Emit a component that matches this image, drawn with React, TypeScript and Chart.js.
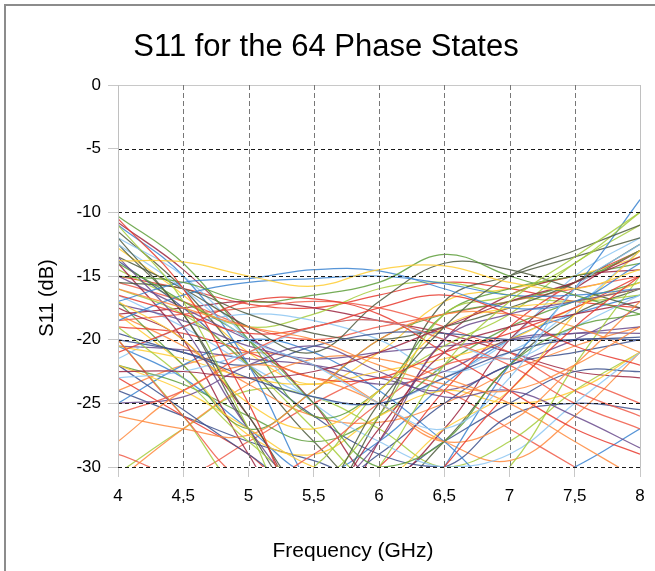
import React, { useEffect, useRef } from "react";
import { Chart, registerables } from "chart.js";

Chart.register(...registerables);

const chartTitle = "S11 for the 64 Phase States";
const xTitle = "Frequency (GHz)";
const yTitle = "S11 (dB)";

const freqs = [4, 4.5, 5, 5.5, 6, 6.5, 7, 7.5, 8];

const palette = [
  "#e8392e", // red
  "#ff8a3d", // orange
  "#ffcc33", // yellow
  "#a5cc3c", // light green
  "#5d9e3a", // green
  "#4d5b3e", // olive / dark
  "#8cc6f2", // light blue
  "#3a83d0", // blue
  "#3b4f8c", // navy
  "#6a4a8c", // purple
  "#9c2540", // dark red
  "#f05a48", // salmon red
];

const s01 = [-10.5, -16, -25, -35, -36, -30, -24, -19, -15];
const s02 = [-16, -17.5, -19, -20, -22, -23.5, -24, -22, -19];
const s03 = [-13.8, -13.9, -15, -15.8, -14.5, -14.2, -15.5, -16, -14.5];
const s04 = [-11, -17, -27, -36, -30, -22, -17, -13.5, -10];
const s05 = [-15, -15.5, -17, -16.5, -15.5, -13.3, -15, -16.5, -18];
const s06 = [-12, -18, -26, -32, -25, -19, -15, -13, -11];
const s07 = [-12.5, -16, -20, -22, -25, -27, -23, -16, -12.5];
const s08 = [-17, -15.5, -15.2, -14.5, -14.6, -16, -17.5, -17, -14];
const s09 = [-20, -21, -23, -24.5, -25, -23, -21, -20, -20];
const s10 = [-13.5, -19, -27, -32, -28, -20, -18, -17, -16];
const s11 = [-22.5, -22.5, -23, -22.5, -21, -19, -17, -15.5, -13.5];
const s12 = [-25.8, -24, -21, -19, -18.5, -20, -22, -25, -27];
const s13 = [-16.5, -18, -19.5, -19, -17.5, -16.5, -18, -20.5, -22];
const s14 = [-28, -24, -22, -23, -25, -28, -26.5, -22, -17];
const s15 = [-17, -20, -25, -27, -24, -19, -17.5, -17, -16];
const s16 = [-19, -23, -28, -31, -26, -18, -16.5, -14, -10];
const s17 = [-14, -17, -20, -25, -30, -28, -22, -19, -18];
const s18 = [-13.5, -16, -19, -21, -17, -14, -14.5, -16, -17.5];
const s19 = [-23, -22.5, -21, -19, -18.5, -20, -21.5, -19, -16.5];
const s20 = [-18.5, -16.5, -15.5, -15.2, -15, -15.6, -16.5, -16.5, -16];
const s21 = [-19.5, -21, -22, -20.5, -19.5, -19.5, -20, -20, -19.8];
const s22 = [-25, -24.5, -22, -20.5, -22.5, -24.5, -24, -26, -28.5];
const s23 = [-17.5, -20, -26, -33, -27, -21, -19, -18, -17];
const s24 = [-20, -26, -31, -29, -25, -22, -21.5, -23, -25];
const s25 = [-21, -19, -17, -16.8, -18, -21, -24, -27, -29];
const s26 = [-26, -27, -27.5, -24, -20, -18, -18, -19, -21];
const s27 = [-22, -24, -27, -30, -31, -27, -24, -18, -13];
const s28 = [-16, -18, -22, -27, -32, -34, -30, -22, -15];
const s29 = [-10.3, -14, -20, -26, -24, -18, -16, -15, -14];
const s30 = [-15.5, -16, -18, -19.5, -20, -19, -17.5, -15.5, -12.5];
const s31 = [-12, -15, -20, -25, -28, -30, -29, -25, -21];
const s32 = [-11, -15, -22, -32, -38, -30, -22, -16, -9];
const s33 = [-22, -25.5, -29, -32, -29, -25, -22, -21, -20];
const s34 = [-15, -17.5, -20, -22, -23.5, -22.5, -20, -19.5, -19];
const s35 = [-14, -20, -29, -36, -28, -20, -16.5, -15, -14.5];
const s36 = [-18.5, -18, -17.5, -17, -17.5, -19, -21, -24, -26];
const s37 = [-19, -19.5, -21, -23, -23, -21, -19.5, -17.5, -15];
const s38 = [-31, -27, -23.5, -21.5, -21.5, -23, -25, -28, -31];
const s39 = [-20.5, -21.5, -23, -23.5, -22.5, -21.5, -20, -17.5, -15.5];
const s40 = [-20, -26, -32, -30, -24, -20.5, -18, -14, -11];
const s41 = [-17, -22, -27, -24, -20, -18, -17, -15.5, -13];
const s42 = [-12.5, -18, -27, -33, -26, -17, -15, -13.5, -12];
const s43 = [-21.5, -19, -18, -18.5, -20, -22.5, -21, -17.5, -13];
const s44 = [-25, -22, -20, -21, -24, -28, -32, -30, -27];
const s45 = [-13.8, -17.5, -22, -26, -29, -30, -26, -25, -25.5];
const s46 = [-17.2, -18.5, -20.5, -21.5, -21, -20.5, -20, -19.5, -19.5];
const s47 = [-10.8, -14.5, -19.5, -25, -31, -27, -20, -16, -13];
const s48 = [-15.5, -17, -19, -20, -19, -18, -17, -16, -15];
const s49 = [-23, -26, -29, -33, -30, -24, -19, -15.5, -13];
const s50 = [-18, -20.5, -23.5, -26, -26.5, -25, -22.5, -20.5, -19];
const s51 = [-18, -22, -27.5, -29, -26, -24, -25, -24, -21];
const s52 = [-14.5, -17, -19, -18, -16, -15.5, -16.5, -17, -16.5];
const s53 = [-22, -23.5, -26, -28, -26, -22, -19, -17, -15.5];
const s54 = [-11.5, -16, -22, -28, -32, -28, -22, -18, -16];
const s55 = [-16.5, -19, -22, -24.5, -25, -23, -20, -15, -12];
const s56 = [-20.5, -23, -27, -30.5, -28, -23.5, -20, -18, -16.5];
const s57 = [-24, -26, -28, -29.5, -31, -28, -25, -22.5, -22.5];
const s58 = [-20.5, -20.8, -21.5, -22, -23, -24, -22, -20, -17.5];
const s59 = [-18, -17.5, -17, -17.5, -18.5, -19.5, -21, -22.5, -23];
const s60 = [-29, -30.5, -28, -25, -23, -24, -27, -30, -33];
const s61 = [-15, -16, -17.2, -17.5, -16.5, -15.5, -16, -17, -17.5];
const s62 = [-24, -22, -21, -22, -25, -28, -29.5, -26, -21];
const s63 = [-12.8, -16.5, -21, -23.5, -21, -17, -16, -15, -13.5];
const s64 = [-30.5, -27, -24, -24.5, -27, -30, -28, -24, -21];

const seriesList = [
  s01, s02, s03, s04, s05, s06, s07, s08, s09, s10, s11, s12, s13, s14, s15, s16,
  s17, s18, s19, s20, s21, s22, s23, s24, s25, s26, s27, s28, s29, s30, s31, s32,
  s33, s34, s35, s36, s37, s38, s39, s40, s41, s42, s43, s44, s45, s46, s47, s48,
  s49, s50, s51, s52, s53, s54, s55, s56, s57, s58, s59, s60, s61, s62, s63, s64,
];

const yTickValues = [0, -5, -10, -15, -20, -25, -30];
const xTickValues = [4, 4.5, 5, 5.5, 6, 6.5, 7, 7.5, 8];

const FONT = "'Liberation Sans', Arial, sans-serif";

function hexA(hex: string, a: number) {
  const r = parseInt(hex.slice(1, 3), 16);
  const g = parseInt(hex.slice(3, 5), 16);
  const b = parseInt(hex.slice(5, 7), 16);
  return `rgba(${r},${g},${b},${a})`;
}

const decorPlugin = {
  id: "decor",
  beforeDraw(chart: any) {
    const ctx = chart.ctx;
    ctx.save();
    ctx.fillStyle = "#ffffff";
    ctx.fillRect(0, 0, chart.width, chart.height);
    ctx.fillStyle = "#8c8c8c";
    ctx.fillRect(4, 4, 2, chart.height);
    ctx.fillRect(4, 4, chart.width, 2);
    ctx.restore();
  },
  afterDatasetsDraw(chart: any) {
    const ctx = chart.ctx;
    const xs = chart.scales.x;
    const ys = chart.scales.y;
    const { left, right, top, bottom } = chart.chartArea;
    ctx.save();
    yTickValues.forEach((v) => {
      const y = Math.round(ys.getPixelForValue(v)) + 0.5;
      ctx.beginPath();
      if (v === 0) {
        ctx.setLineDash([]);
        ctx.strokeStyle = "#c8c8c8";
      } else {
        ctx.setLineDash([4, 3]);
        ctx.strokeStyle = "#1a1a1a";
      }
      ctx.lineWidth = 1;
      ctx.moveTo(left, y);
      ctx.lineTo(right, y);
      ctx.stroke();
    });
    xTickValues.forEach((v) => {
      const x = Math.round(xs.getPixelForValue(v)) + 0.5;
      ctx.beginPath();
      if (v === 4 || v === 8) {
        ctx.setLineDash([]);
        ctx.strokeStyle = "#c0c0c0";
      } else {
        ctx.setLineDash([5, 3]);
        ctx.strokeStyle = "#777777";
      }
      ctx.lineWidth = 1;
      ctx.moveTo(x, top);
      ctx.lineTo(x, bottom);
      ctx.stroke();
    });
    ctx.restore();
  },
  afterDraw(chart: any) {
    const ctx = chart.ctx;
    ctx.save();
    ctx.fillStyle = "#000000";
    ctx.textAlign = "center";
    ctx.textBaseline = "middle";
    ctx.font = `31px ${FONT}`;
    ctx.fillText(chartTitle, 326, 47);
    ctx.font = `21px ${FONT}`;
    ctx.fillText(xTitle, 353, 551);
    ctx.translate(47, 298);
    ctx.rotate(-Math.PI / 2);
    ctx.font = `20px ${FONT}`;
    ctx.fillText(yTitle, 0, 0);
    ctx.restore();
  },
};

export default function App() {
  const ref = useRef<HTMLCanvasElement | null>(null);

  useEffect(() => {
    if (!ref.current) return;
    const datasets = seriesList.map((vals, i) => ({
      label: `State ${i + 1}`,
      data: vals.map((y, j) => ({ x: freqs[j], y })),
      borderColor: hexA(palette[i % palette.length], 0.85),
      borderWidth: 1.25,
      pointRadius: 0,
      tension: 0.4,
      fill: false,
    }));
    const chart = new Chart(ref.current, {
      type: "line",
      data: { datasets },
      plugins: [decorPlugin],
      options: {
        animation: false,
        responsive: false,
        devicePixelRatio: 1,
        layout: { padding: { top: 85, right: 15, left: 0, bottom: 0 } },
        plugins: {
          legend: { display: false },
          title: { display: false },
          tooltip: { enabled: false },
        },
        scales: {
          x: {
            type: "linear",
            min: 4,
            max: 8,
            afterFit: (s: any) => {
              s.height = 104;
            },
            afterBuildTicks: (s: any) => {
              s.ticks = xTickValues.map((v) => ({ value: v }));
            },
            ticks: {
              color: "#000000",
              font: { family: FONT, size: 17 },
              padding: 9,
              maxRotation: 0,
              autoSkip: false,
              callback: (v: any) => String(v).replace(".", ","),
            },
            grid: {
              drawOnChartArea: false,
              drawTicks: true,
              tickLength: 10,
              tickColor: "#c8c8c8",
            },
            border: { display: false },
          },
          y: {
            type: "linear",
            min: -30,
            max: 0,
            afterFit: (s: any) => {
              s.width = 118;
            },
            afterBuildTicks: (s: any) => {
              s.ticks = yTickValues.map((v) => ({ value: v }));
            },
            ticks: {
              color: "#000000",
              font: { family: FONT, size: 17 },
              padding: 7,
              autoSkip: false,
              callback: (v: any) => String(v),
            },
            grid: {
              drawOnChartArea: false,
              drawTicks: true,
              tickLength: 10,
              tickColor: "#c8c8c8",
            },
            border: { display: false },
          },
        },
      },
    });
    return () => chart.destroy();
  }, []);

  return (
    <div style={{ position: "absolute", left: 0, top: 0, width: 655, height: 571 }}>
      <canvas ref={ref} width={655} height={571} style={{ display: "block", width: 655, height: 571 }} />
    </div>
  );
}
